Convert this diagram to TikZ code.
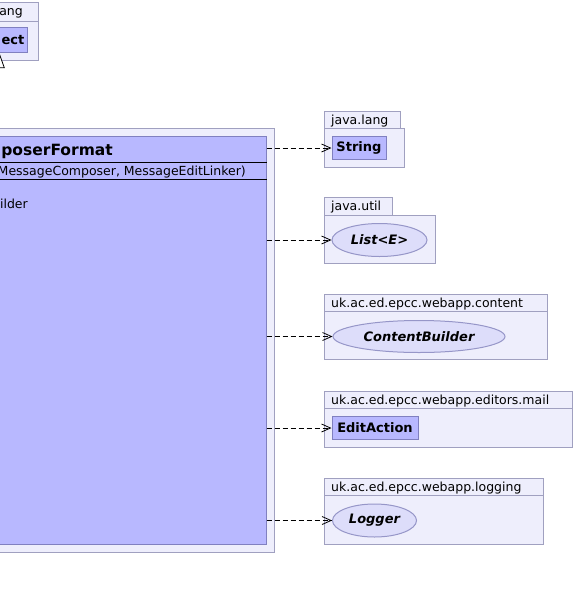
\documentclass[tikz,border=0pt]{standalone}
\usepackage{fontspec}
\setmainfont{DejaVu Sans}
\usetikzlibrary{arrows.meta,shapes.geometric,positioning}
\definecolor{pkgfill}{RGB}{238,238,252}
\definecolor{pkgline}{RGB}{160,160,192}
\definecolor{clsfill}{RGB}{184,184,255}
\definecolor{clsline}{RGB}{128,128,192}
\definecolor{ifcfill}{RGB}{221,221,250}
\definecolor{ifcline}{RGB}{150,150,200}
\tikzset{
  pkgbox/.style={draw=pkgline,fill=pkgfill,line width=1pt},
  clsbox/.style={rectangle,draw=clsline,fill=clsfill,line width=1pt,inner sep=0pt,
    font=\fontsize{13}{15}\selectfont\bfseries},
  ifcbox/.style={ellipse,draw=ifcline,fill=ifcfill,line width=1pt,inner sep=0pt,
    font=\fontsize{13}{15}\selectfont\bfseries\itshape},
  pkglabel/.style={anchor=base west,inner sep=0pt,font=\fontsize{12.5}{15}\selectfont},
  memtext/.style={anchor=base east,inner sep=0pt,font=\fontsize{12.5}{15}\selectfont},
  uses/.style={dash pattern=on 5pt off 3pt,-{Straight Barb[length=9pt,width=8pt]},line width=0.8pt}
}

\begin{document}
\begin{tikzpicture}[x=1pt,y=-1pt]
  \useasboundingbox (0,0) rectangle (575,590);

  % package java.lang (top left, cut off)
  \draw[pkgbox] (-10,2) rectangle (38,21);
  \draw[pkgbox] (-10,21) rectangle (38,60);
  \node[memtext] (jlo) at (23,15) {ang};
  \node[clsbox,minimum width=37pt,minimum height=25pt] (obj) at (8.5,39.5) {};
  \node[anchor=base east,inner sep=0pt,font=\fontsize{13}{15}\selectfont\bfseries] (objname) at (24.5,44.5) {ect};
  \draw[line width=0.8pt,fill=white] (-1.3,52) -- (4.3,67.7) -- (-6.9,67.7) -- cycle;

  % the formatter class
  \draw[pkgbox] (-10,128) rectangle (274,552);
  \node[clsbox,minimum width=276pt,minimum height=408pt] (fmt) at (128,340) {};
  \draw[clsline,line width=1pt] (fmt.west |- 0,162) -- (fmt.east |- 0,162);
  \draw[clsline,line width=1pt] (fmt.west |- 0,179) -- (fmt.east |- 0,179);
  \draw[black,line width=0.8pt] (fmt.west |- 0,162.5) -- (fmt.east |- 0,162.5);
  \draw[black,line width=0.8pt] (fmt.west |- 0,179.5) -- (fmt.east |- 0,179.5);
  \node[anchor=base east,inner sep=0pt,font=\fontsize{15.5}{18}\selectfont\bfseries] (title) at (113,155) {poserFormat};
  \node[memtext] (ctor) at (246,175) {MessageComposer, MessageEditLinker)};
  \node[memtext] (fld) at (28,208) {ilder};

  % java.lang
  \draw[pkgbox] (324,111) rectangle (400,128);
  \draw[pkgbox] (324,128) rectangle (404,167);
  \node[pkglabel] (jl) at (331,124) {java.lang};
  \node[clsbox,minimum width=54pt,minimum height=23pt] (str) at (359,148) {String};

  % java.util
  \draw[pkgbox] (324,197) rectangle (392,215);
  \draw[pkgbox] (324,215) rectangle (435,263);
  \node[pkglabel] (ju) at (331,210) {java.util};
  \node[ifcbox,minimum width=95pt,minimum height=33pt] (lst) at (379.5,240) {List<E>};

  % uk.ac.ed.epcc.webapp.content
  \draw[pkgbox] (324,294) rectangle (547,311);
  \draw[pkgbox] (324,311) rectangle (547,359);
  \node[pkglabel] (wc) at (331,307) {uk.ac.ed.epcc.webapp.content};
  \node[ifcbox,minimum width=172pt,minimum height=32pt] (cnt) at (419,336.5) {ContentBuilder};

  % uk.ac.ed.epcc.webapp.editors.mail
  \draw[pkgbox] (324,391) rectangle (572,408);
  \draw[pkgbox] (324,408) rectangle (572,447);
  \node[pkglabel] (wm) at (331,404) {uk.ac.ed.epcc.webapp.editors.mail};
  \node[clsbox,minimum width=86pt,minimum height=23pt] (edt) at (375,428) {EditAction};

  % uk.ac.ed.epcc.webapp.logging
  \draw[pkgbox] (324,478) rectangle (543,495);
  \draw[pkgbox] (324,495) rectangle (543,544);
  \node[pkglabel] (wl) at (331,491) {uk.ac.ed.epcc.webapp.logging};
  \node[ifcbox,minimum width=84pt,minimum height=33pt] (lgr) at (374.5,520.5) {Logger};

  % dependencies
  \draw[uses] (fmt.east |- str.west) -- (str.west);
  \draw[uses] (fmt.east |- lst.west) -- (lst.west);
  \draw[uses] (fmt.east |- cnt.west) -- (cnt.west);
  \draw[uses] (fmt.east |- edt.west) -- (edt.west);
  \draw[uses] (fmt.east |- lgr.west) -- (lgr.west);
\end{tikzpicture}
\end{document}
